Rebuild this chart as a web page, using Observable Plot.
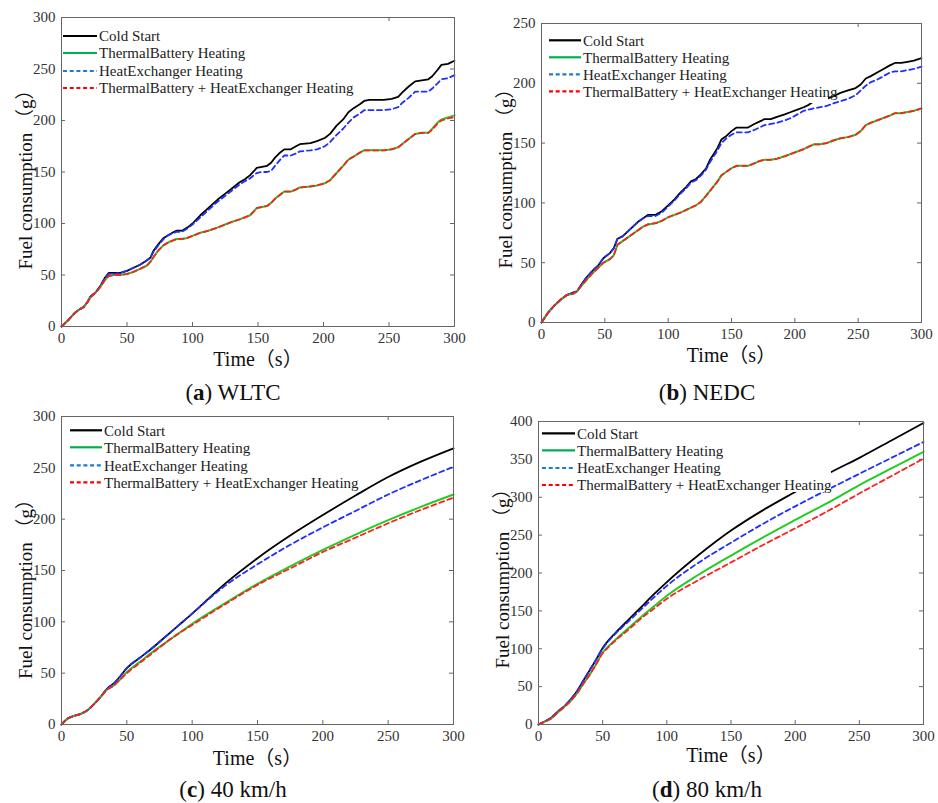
<!DOCTYPE html>
<html><head><meta charset="utf-8">
<script src="https://cdn.jsdelivr.net/npm/d3@7"></script>
<script src="https://cdn.jsdelivr.net/npm/@observablehq/plot@0.6"></script>
<style>
body{margin:0;background:#fff;width:938px;height:803px;position:relative;overflow:hidden;font-family:"Liberation Serif","Times New Roman",serif}
.panel{position:absolute}
.cap{position:absolute;font-size:23px;transform:translate(-50%,-50%);white-space:nowrap;color:#111;font-family:"Liberation Serif","Times New Roman",serif}
</style></head><body>
<div id="pa" class="panel" style="left:0;top:0;width:470px"></div>
<div id="pb" class="panel" style="left:470px;top:0;width:468px"></div>
<div id="pc" class="panel" style="left:0;top:405px;width:470px"></div>
<div id="pd" class="panel" style="left:470px;top:405px;width:468px"></div>
<div class="cap" style="left:233px;top:393px">(<b>a</b>) WLTC</div>
<div class="cap" style="left:707px;top:393px">(<b>b</b>) NEDC</div>
<div class="cap" style="left:233px;top:790px">(<b>c</b>) 40 km/h</div>
<div class="cap" style="left:707px;top:790px">(<b>d</b>) 80 km/h</div>
<script>
// ---- labels ----
const seriesNames = ["Cold Start", "ThermalBattery Heating", "HeatExchanger Heating", "ThermalBattery + HeatExchanger Heating"];
const xLabel = "Time（s）";
const yLabel = "Fuel consumption （g）";
const xTicks = [0, 50, 100, 150, 200, 250, 300];

// ---- (a) WLTC ----
const tA = [0,5,10,13,17,20,22,26,30,33,36,40,45,50,55,60,65,68,70,74,78,82,86,88,92,96,100,106,112,119,125,131,136,140,144,147,149,153,157,160,163,167,170,175,179,182,190,195,201,205,210,215,219,223,228,231,235,240,246,252,257,260,265,270,275,280,283,287,290,295,300];
const coldA = [0,6,13,16,19,24,29,33,40,47,52,52,52,54,57,60,64,67,73,80,86,89,92,93,93,96,100,108,115,123,129,135,140,143,147,151,154,155,156,159,164,169,172,172,175,177,178,180,183,187,195,201,208,212,216,219,220,220,220,221,223,227,233,238,239,240,243,249,254,255,258];
const tbA = [0,6,13,16,19,24,28,33,39,45,49,50,50,51,53,56,59,63,67,74,79,82,84,85,85,86,88,91,93,96,99,102,104,106,108,112,115,116,117,120,124,128,131,131,133,135,136,137,139,142,149,156,162,165,169,171,171,171,171,172,174,177,182,187,188,188,192,198,201,203,205];
const heA = [0,6,13,16,19,24,29,33,40,47,51,51,52,54,57,60,64,67,72,79,85,89,91,92,92,95,99,106,113,121,127,133,138,141,144,147,149,150,150,151,156,162,166,166,168,170,171,172,175,179,186,192,198,203,207,210,210,210,210,211,213,217,222,228,228,228,231,236,240,241,244];
const tbheA = [0,6,13,16,19,24,28,33,39,45,49,50,50,51,53,56,59,63,67,74,79,82,84,85,85,86,88,91,93,96,99,102,104,106,108,112,115,116,117,120,124,128,131,131,133,135,136,137,139,142,149,156,162,165,169,171,171,171,171,172,174,177,182,187,188,188,191,197,200,202,203];

// ---- (b) NEDC ----
const tB = [0,5,10,15,20,25,28,31,35,40,45,49,54,57,60,64,68,72,76,80,84,90,95,100,105,110,114,118,122,126,130,133,136,139,142,146,150,154,158,163,168,172,176,181,186,192,197,202,207,211,215,220,225,230,236,242,248,252,256,260,265,270,275,279,284,289,294,300];
const coldB = [0,8,14,19,23,25,26,31,37,43,48,54,58,62,70,72,76,80,84,87,90,90,93,98,103,109,113,118,120,124,129,136,141,146,153,156,160,163,163,163,166,168,170,170,172,174,176,178,180,182,185,186,187,189,192,194,196,199,204,206,209,212,215,217,217,218,219,221];
const tbB = [0,8,14,19,23,24,26,30,35,41,46,50,53,56,65,68,71,74,77,80,82,83,85,88,90,92,94,96,98,101,106,110,114,118,123,126,129,131,131,131,133,135,136,136,137,139,141,143,145,147,149,149,150,152,154,155,157,160,165,167,169,171,173,175,175,176,177,179];
const heB = [0,8,14,19,23,25,26,31,37,43,48,54,58,62,70,72,76,80,84,87,89,89,92,97,102,108,112,117,119,123,128,134,139,144,150,154,157,159,159,159,161,163,165,166,167,169,171,174,177,178,179,180,181,183,185,187,190,194,198,201,203,206,209,210,210,211,212,214];
const tbheB = [0,8,14,19,23,24,26,30,35,41,46,50,53,56,65,68,71,74,77,80,82,83,85,88,90,92,94,96,98,101,106,110,114,118,123,126,129,131,131,131,133,135,136,136,137,139,141,143,145,147,149,149,150,152,154,155,157,160,165,167,169,171,173,175,175,176,177,179];

// ---- (c) 40 km/h ----
const tC = [0,5,10,15,20,25,30,35,40,45,50,60,70,80,90,100,125,150,175,200,225,250,275,300];
const coldC = [0,6,8.5,10.5,14,20,27,35,40,47,55,65,75,86,97,108,137,162,184,204,223,241,256,269];
const tbC = [0,6,8.5,10.5,14,20,27,34,38,44,51,61,71,80,89,98,118,137,154,170,185,199,212,224];
const heC = [0,6,8.5,10.5,14,20,27,35,40,47,55,65,75,86,97,108,135,156,175,192,208,224,238,251];
const tbheC = [0,6,8.5,10.5,14,20,27,34,38,44,50,60,70,80,89,97,117,136,152,168,182,196,209,221];

// ---- (d) 80 km/h ----
const tD = [0,5,10,15,20,25,30,35,40,45,50,55,60,70,80,90,100,125,150,175,200,230,250,275,300];
const coldD = [0,4,9,17,24,33,44,58,72,86,101,112,121,138,155,172,188,224,256,283,307,335,352,375,398];
const tbD = [0,4,8,16,23,31,41,54,66,80,95,104,112,127,142,156,170,198,223,247,270,297,316,338,360];
const heD = [0,4,9,17,24,33,44,58,72,86,100,111,120,136,152,168,183,214,240,265,288,314,331,352,373];
const tbheD = [0,4,8,16,23,31,41,54,66,80,94,103,111,125,140,153,166,191,214,237,259,286,305,328,351];

const lineStyles = [
  {stroke: "#000000", strokeWidth: 1.8},
  {stroke: "#22cc22", strokeWidth: 2},
  {stroke: "#1f2fff", strokeWidth: 1.8, strokeDasharray: "5,3.5"},
  {stroke: "#ff1f1f", strokeWidth: 1.8, strokeDasharray: "5,3.5"}
];
const legendColors = ["#000000", "#00b050", "#1f78d4", "#ff0000"];

function panel(p) {
  const W = p.width - p.ml - p.mr, H = p.height - p.mt - p.mb;
  const rows = vals => p.t.map((t, j) => ({t, v: vals[j]}));
  const tickC = "#666";
  const marks = [
    Plot.tickX(xTicks, {x: d => d, insetTop: H - 4, stroke: tickC}),
    Plot.tickX(xTicks, {x: d => d, insetBottom: H - 4, stroke: tickC}),
    Plot.tickY(p.yTicks, {y: d => d, insetRight: W - 4, stroke: tickC}),
    Plot.tickY(p.yTicks, {y: d => d, insetLeft: W - 4, stroke: tickC}),
    Plot.axisX({ticks: xTicks, tickSize: 0, tickPadding: 6, fontSize: 15, fill: "#333", label: null}),
    Plot.axisY({ticks: p.yTicks, tickSize: 0, tickPadding: 6, fontSize: 15, fill: "#333", label: null}),
    ...p.series.map((vals, i) => Plot.line(rows(vals), {x: "t", y: "v", curve: p.curve, ...lineStyles[i]})),
    Plot.frame({stroke: tickC, strokeWidth: 1}),
    Plot.text([xLabel], {text: d => d, frameAnchor: "bottom", dy: p.xlDy, fontSize: 20, fill: "#111", textAnchor: "middle", lineAnchor: "middle"}),
    Plot.text([yLabel], {text: d => d, frameAnchor: "left", dx: -36, dy: p.ylDy, rotate: -90, fontSize: 19, fill: "#111", textAnchor: "middle", lineAnchor: "middle"})
  ];
  const chart = Plot.plot({
    width: p.width, height: p.height,
    marginLeft: p.ml, marginRight: p.mr, marginTop: p.mt, marginBottom: p.mb,
    x: {domain: [0, 300], label: null},
    y: {domain: p.yDomain, label: null},
    style: {fontFamily: "'Liberation Serif','Times New Roman','Noto Sans CJK SC',serif", background: "transparent", overflow: "visible"},
    marks
  });
  const svg = d3.select(chart);
  const g = svg.append("g").attr("transform", `translate(${p.ml},${p.mt})`).attr("text-anchor", "start");
  g.append("rect").attr("x", 1).attr("y", 1).attr("width", p.lg.bw).attr("height", p.lg.bh).attr("fill", "#fff");
  seriesNames.forEach((name, i) => {
    const y = p.lg.rows[i];
    g.append("line").attr("x1", p.lg.x).attr("x2", p.lg.x + p.lg.len).attr("y1", y).attr("y2", y)
      .attr("stroke", legendColors[i]).attr("stroke-width", 2.2)
      .attr("stroke-dasharray", i >= 2 ? "4,2.7" : null);
    g.append("text").attr("x", p.lg.x + p.lg.len + 2).attr("y", y).attr("dy", "0.35em")
      .attr("text-anchor", "start")
      .attr("font-size", 15).attr("fill", "#222").attr("font-family", "'Liberation Serif','Times New Roman',serif")
      .text(name);
  });
  document.getElementById(p.id).appendChild(chart);
}

panel({id: "pa", width: 470, height: 372, ml: 61, mr: 16, mt: 17, mb: 46,
  yDomain: [0, 300], yTicks: [0, 50, 100, 150, 200, 250, 300], t: tA, series: [coldA, tbA, heA, tbheA],
  curve: "linear", xlDy: 33, ylDy: 3, lg: {rows: [19, 36, 54, 71], x: 2, len: 34, bw: 292, bh: 78}});
panel({id: "pb", width: 468, height: 372, ml: 71, mr: 17, mt: 23, mb: 50,
  yDomain: [0, 250], yTicks: [0, 50, 100, 150, 200, 250], t: tB, series: [coldB, tbB, heB, tbheB],
  curve: "linear", xlDy: 33, ylDy: 1, lg: {rows: [17.3, 34.3, 51.3, 68.3], x: 8, len: 32, bw: 286, bh: 79}});
panel({id: "pc", width: 470, height: 370, ml: 61, mr: 17, mt: 11, mb: 51,
  yDomain: [0, 300], yTicks: [0, 50, 100, 150, 200, 250, 300], t: tC, series: [coldC, tbC, heC, tbheC],
  curve: "monotone-x", xlDy: 34, ylDy: 14, lg: {rows: [14.3, 31.3, 49.3, 66.3], x: 9, len: 32, bw: 292, bh: 72}});
panel({id: "pd", width: 468, height: 370, ml: 68, mr: 15, mt: 16, mb: 51,
  yDomain: [0, 400], yTicks: [0, 50, 100, 150, 200, 250, 300, 350, 400], t: tD, series: [coldD, tbD, heD, tbheD],
  curve: "monotone-x", xlDy: 31, ylDy: 1, lg: {rows: [12.3, 29.3, 47, 64], x: 4, len: 33, bw: 292, bh: 70}});
</script>
</body></html>
